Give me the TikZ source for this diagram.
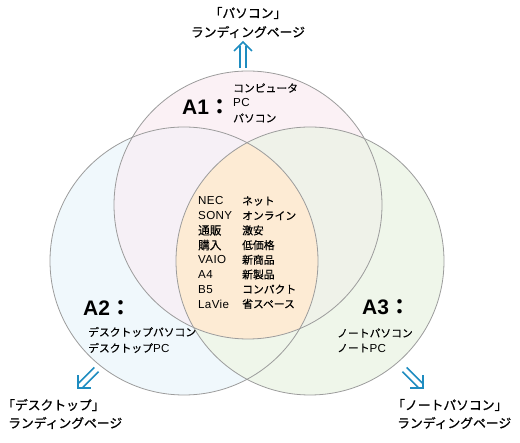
\documentclass[tikz,border=0pt]{standalone}
\usepackage{fontspec}
\setmainfont{Noto Sans CJK JP}
\newfontfamily\jpheavy[FakeBold=0.9]{Noto Sans CJK JP}
\newfontfamily\jpmid[FakeBold=0.3]{Noto Sans CJK JP}
\newfontfamily\lat[LetterSpace=3]{Liberation Sans}
\newfontfamily\latbold{Liberation Sans}
\definecolor{cAone}{HTML}{FBF1F5}
\definecolor{cAtwo}{HTML}{F0F8FC}
\definecolor{cAthree}{HTML}{EFF6EA}
\definecolor{cOneTwo}{HTML}{F6F0F6}
\definecolor{cOneThree}{HTML}{EFF2E9}
\definecolor{cAll}{HTML}{FDEBD4}
\definecolor{ringgray}{HTML}{9C9C9C}
\definecolor{arrowblue}{HTML}{1E8CC0}
\tikzset{
  ring/.style={draw=ringgray, line width=0.8pt},
  lab/.style={font=\fontsize{12.8}{15}\selectfont\jpheavy, inner sep=0pt},
  item/.style={font=\fontsize{10.8}{13}\selectfont\jpmid, anchor=west, inner sep=0pt},
  bigname/.style={font=\fontsize{21}{24}\selectfont\bfseries, anchor=west, inner sep=0pt},
  dblarr/.pic={
    \draw[arrowblue, line width=1.6pt] (-3,4) -- (-3,26) (3,4) -- (3,26);
    \draw[arrowblue, line width=1.6pt, line join=miter] (-9,9) -- (0,0) -- (9,9);
  }
}
\newcommand{\lt}[1]{{\fontsize{11.6}{13}\selectfont\lat #1}}
\begin{document}
\begin{tikzpicture}[x=1pt,y=-1pt]
\useasboundingbox (0,0) rectangle (520,443);
\def\pathA{(248,205) circle[radius=134pt]}
\def\pathB{(184,261) circle[radius=134pt]}
\def\pathC{(310,261) circle[radius=134pt]}
% fills
\fill[cAtwo] \pathB;
\fill[cAthree] \pathC;
\fill[cAone] \pathA;
\begin{scope}
  \clip \pathA;
  \fill[cOneTwo] \pathB;
  \fill[cOneThree] \pathC;
  \clip \pathB;
  \fill[cAll] \pathC;
\end{scope}
\draw[ring] \pathA;
\draw[ring] \pathB;
\draw[ring] \pathC;
% arrows
\coordinate (upTip) at (243,42);
\coordinate (dlTip) at (78,388);
\coordinate (drTip) at (423,388);
\pic at (upTip) {dblarr};
\pic[rotate=135] at (dlTip) {dblarr};
\pic[rotate=-135] at (drTip) {dblarr};
% landing labels
\node[lab] (topA) at (248,13) {「パソコン」};
\node[lab] (topB) at (248,32) {ランディングページ};
\node[lab, anchor=west] (leftA) at (2,405) {「デスクトップ」};
\node[lab, anchor=west] (leftB) at (8,423) {ランディングページ};
\node[lab, anchor=west] (rightA) at (392,405) {「ノートパソコン」};
\node[lab, anchor=west] (rightB) at (397,423) {ランディングページ};
% set names
\node[bigname] (nA1) at (182,107) {{\latbold\bfseries A1}：};
\node[bigname] (nA2) at (83,308) {{\latbold\bfseries A2}：};
\node[bigname] (nA3) at (362,307) {{\latbold\bfseries A3}：};
% A1 words
\node[item] (a1w1) at (233,88) {コンピュータ};
\node[item] (a1w2) at (233,103) {\lt{PC}};
\node[item] (a1w3) at (233,118) {パソコン};
% A2 words
\node[item] (a2w1) at (88,332) {デスクトップパソコン};
\node[item] (a2w2) at (88,348) {デスクトップ\lt{PC}};
% A3 words
\node[item] (a3w1) at (337,333) {ノートパソコン};
\node[item] (a3w2) at (337,348) {ノート\lt{PC}};
% centre words
\foreach \t [count=\i] in {NEC,SONY,{\jpmid 通販},{\jpmid 購入},VAIO,A4,B5,LaVie}
  \node[item] (cl\i) at (198,{201+(\i-1)*14.7}) {\lt{\t}};
\foreach \t [count=\i] in {ネット,オンライン,激安,低価格,新商品,新製品,コンパクト,省スペース}
  \node[item] (cr\i) at (242,{201+(\i-1)*14.7}) {\t};
\end{tikzpicture}
\end{document}
